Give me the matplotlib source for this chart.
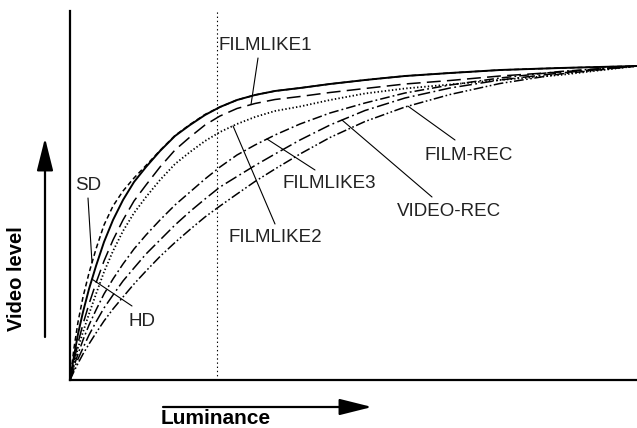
import numpy as np
import matplotlib
matplotlib.use("Agg")
import matplotlib.pyplot as plt

plt.rcParams['font.family'] = ['Liberation Sans', 'DejaVu Sans']
plt.rcParams['lines.scale_dashes'] = False

# luminance / video level in arbitrary units (no scale shown on the chart)
luminance = [0, 4, 8, 13, 19, 26, 34, 43, 53, 64, 76, 90, 105, 120, 135,
             150, 167, 185, 205, 230, 260, 295, 335, 380, 430, 490, 567]
hd = [0, 24, 46, 68, 91, 114, 138, 160, 180, 198, 213, 229, 244, 255, 265,
      273, 280, 285, 289, 292, 296, 300, 304, 307, 310, 312, 314]
sd = [0, 32, 58, 83, 107, 131, 155, 174, 189, 202, 214.5, 229.5, 244.5, 255.5, 265.5,
      273, 280, 285, 289, 292, 296, 300, 304, 307, 310, 312, 314]
filmlike1 = [0, 19, 37, 56, 76, 97, 119, 140, 160, 179, 195, 213, 230, 243, 255,
             264, 271.5, 276.5, 280.5, 283.5, 287.5, 291.5, 296, 299.5, 304, 308, 314]
filmlike2 = [0, 16, 32, 48, 66, 86, 108, 129, 149, 167, 183, 200, 216, 228, 239,
             248, 256, 263, 269, 273.5, 280, 286.5, 291.5, 295.5, 300, 305, 314]
filmlike3 = [0, 14, 26, 40, 55, 70, 86, 101, 116, 131, 145, 160, 175, 188, 201,
             213, 225, 235, 245, 256, 267, 277, 287, 295, 302, 308.5, 314]
video_rec = [0, 11, 21, 32, 45, 58, 72, 85, 99, 112, 126, 140, 155, 168.5, 181,
             193, 203.5, 214.5, 226, 240, 255, 269.5, 282, 292, 300, 307, 314]
film_rec = [0, 8.6, 16.6, 26, 36, 47, 59, 71, 83, 96, 109, 123.5, 137.5, 150.5, 163,
            174, 186, 198.5, 211, 226, 242.5, 258.5, 273, 285.5, 296.5, 306, 314]
knee_x = 147

fig = plt.figure(figsize=(6.37, 4.28), dpi=100)
ax = fig.add_axes([70 / 637, 48 / 428, 567 / 637, 369 / 428])
ax.set_xlim(0, 567)
ax.set_ylim(0, 369)

styles = [
    (sd, 1.1, (0, (3.5, 2.2))),
    (hd, 1.4, '-'),
    (filmlike1, 1.1, (0, (10, 4.5))),
    (filmlike2, 1.3, (0, (1, 1.6))),
    (filmlike3, 1.1, (0, (7, 2.2, 1.3, 2.2))),
    (video_rec, 1.1, (0, (9, 2.5, 1.3, 2.5))),
    (film_rec, 1.1, (0, (7, 1.8, 1.2, 1.8, 1.2, 1.8))),
]
for y, lw, ls in styles:
    ax.plot(luminance, y, color='black', lw=lw, ls=ls, clip_on=False,
            solid_capstyle='butt', dash_capstyle='butt')

ax.axvline(knee_x, color='black', lw=0.8, ls=(0, (1, 2)))

# labels with leader lines: (text, curve, x on curve, leader start, text pos)
fs = 13.5
labels = [
    ('FILMLIKE1', filmlike1, 181, (188, 322), (148, 335)),
    ('SD', sd, 22, (18, 182), (5, 194)),
    ('HD', hd, 22, (62, 74), (58, 58)),
    ('FILMLIKE2', filmlike2, 163, (205, 156), (158, 142)),
    ('FILMLIKE3', filmlike3, 197, (245, 210), (213, 197)),
    ('VIDEO-REC', video_rec, 272, (362, 183), (327, 169)),
    ('FILM-REC', film_rec, 338, (385, 240), (355, 225)),
]
for txt, curve, xc, start, pos in labels:
    yc = np.interp(xc, luminance, curve)
    ax.annotate('', xy=(xc, yc), xytext=start,
                arrowprops=dict(arrowstyle='-', lw=0.8, color='black',
                                shrinkA=0, shrinkB=0))
    ax.text(pos[0], pos[1], txt, fontsize=fs, ha='left', va='center',
            color='#222222')

for side in ['top', 'right']:
    ax.spines[side].set_visible(False)
for side in ['left', 'bottom']:
    ax.spines[side].set_linewidth(1.6)
ax.set_xticks([])
ax.set_yticks([])

# axis arrows
arrow = dict(arrowstyle='-|>,head_length=2.0,head_width=0.5', lw=1.6,
             color='black', shrinkA=0, shrinkB=0)
ax.annotate('', xy=(45, 290), xytext=(45, 91), xycoords='figure pixels',
            textcoords='figure pixels', arrowprops=arrow)
ax.annotate('', xy=(372, 21), xytext=(163, 21), xycoords='figure pixels',
            textcoords='figure pixels', arrowprops=arrow)
fig.text(17 / 637, 1 - 279 / 428, 'Video level', rotation=90, fontsize=14.5,
         fontweight='bold', ha='center', va='center')
fig.text(216 / 637, 1 - 419 / 428, 'Luminance', fontsize=15,
         fontweight='bold', ha='center', va='center')

fig.savefig('out.png', dpi=100)
